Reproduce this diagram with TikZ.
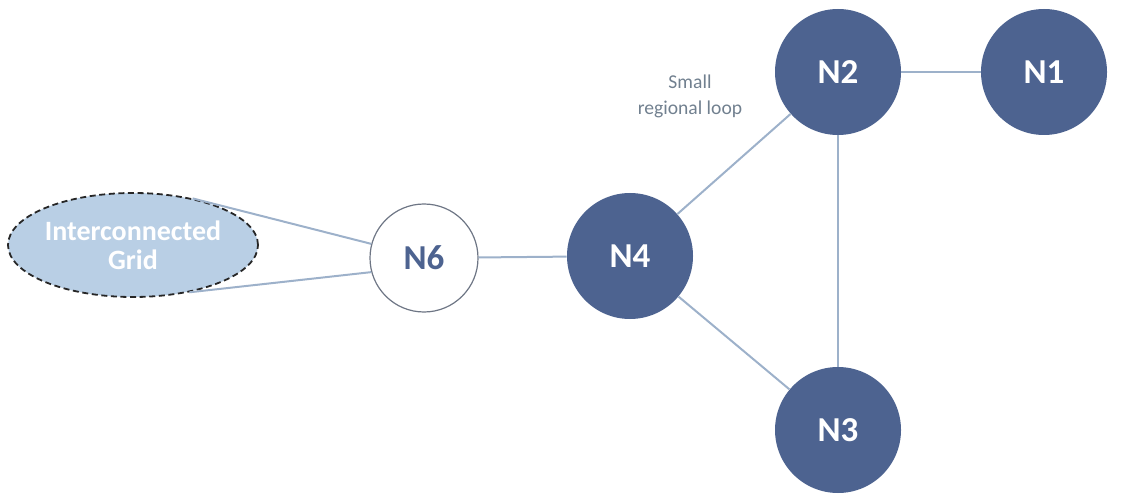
\documentclass[tikz,border=0pt]{standalone}
\usepackage{fontspec}
\setmainfont{Carlito}
\usetikzlibrary{shapes.geometric}
\definecolor{nodeblue}{HTML}{4D6390}
\definecolor{linecol}{HTML}{9DB1CA}
\definecolor{gridfill}{HTML}{B9CFE5}
\definecolor{labelcol}{HTML}{71808F}
\definecolor{ringcol}{HTML}{6E7685}
\tikzset{
  dark/.style={circle, fill=nodeblue, draw=none, minimum size=63pt, inner sep=0pt,
    text=white, font=\fontsize{17.5}{20}\selectfont\bfseries},
  light/.style={circle, fill=white, draw=ringcol, line width=0.6pt, minimum size=54pt, inner sep=0pt,
    text=nodeblue, font=\fontsize{17.5}{20}\selectfont\bfseries},
  grid/.style={ellipse, fill=gridfill, draw=black!85, dash pattern=on 3pt off 1.8pt, line width=0.9pt,
    minimum width=125pt, minimum height=52pt, inner sep=0pt, align=center,
    text=white, font=\fontsize{14}{14.5}\selectfont\bfseries},
  link/.style={draw=linecol, line width=1pt},
  note/.style={align=center, text=labelcol, font=\fontsize{9.8}{13}\selectfont}
}
\begin{document}
\begin{tikzpicture}[x=0.5pt,y=-0.5pt]
\useasboundingbox (0,0) rectangle (1129,497);
\node[grid] (grid) at (133,245) {Interconnected\\Grid};
\node[light] (n6) at (424,258) {N6};
\node[dark] (n4) at (630,256) {N4};
\node[dark] (n2) at (838,72) {N2};
\node[dark] (n1) at (1044,72) {N1};
\node[dark] (n3) at (838,430) {N3};
\node[note] (lbl) at (690,96) {Small\\regional loop};
\draw[link] (grid.38) -- (n6.165);
\draw[link] (grid.-40) -- (n6.-165);
\draw[link] (n6) -- (n4);
\draw[link] (n4) -- (n2);
\draw[link] (n4) -- (n3);
\draw[link] (n2) -- (n3);
\draw[link] (n2) -- (n1);
\end{tikzpicture}
\end{document}
